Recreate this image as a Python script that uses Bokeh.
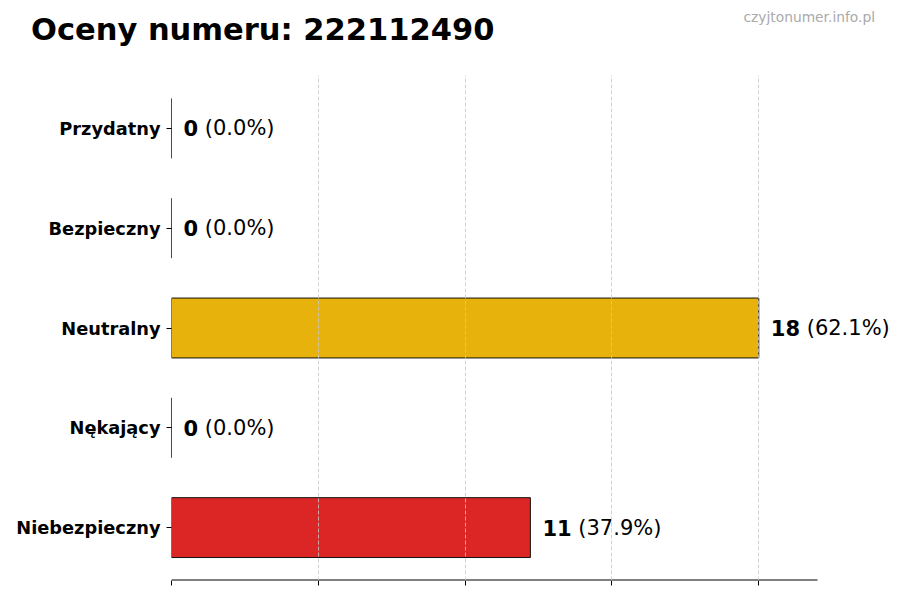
from bokeh.plotting import figure
from bokeh.models import ColumnDataSource, Range1d, FixedTicker, Div
from bokeh.layouts import column
from bokeh.core.properties import value
from bokeh.embed import file_html
from bokeh.resources import INLINE

categories = ["Niebezpieczny", "Nękający", "Neutralny", "Bezpieczny", "Przydatny"]
counts = [11, 0, 18, 0, 0]
colors = ["#DC2626", "#9CA3AF", "#E8B20C", "#16A34A", "#2563EB"]
title_text = "Oceny numeru: 222112490"
watermark = "czyjtonumer.info.pl"
grid_ticks = [0, 4.5, 9, 13.5, 18]

FONT = "DejaVu Sans"
VAL_PX = 21.0
total = sum(counts)
pos = list(range(len(categories)))
bold_txt = [str(c) for c in counts]
pct_txt = ["(%.1f%%)" % (100.0 * c / total) for c in counts]
bold_off = [12] * len(counts)
pct_off = [12 + len(s) * 0.696 * VAL_PX + 0.318 * VAL_PX for s in bold_txt]

src = ColumnDataSource(dict(y=pos, cnt=counts, col=colors,
                            btxt=bold_txt, ptxt=pct_txt, boff=bold_off, poff=pct_off))

# layout in pixels
LEFT, AXIS_W, EXTRA_W, FRAME_H = 171, 646, 75, 505
axis_max = max(counts) * 1.1
x_max = axis_max * (AXIS_W + EXTRA_W) / AXIS_W
y_pad = 0.23
y0, y1 = -0.3 - y_pad, len(categories) - 1 + 0.3 + y_pad

p = figure(x_range=Range1d(0, x_max), y_range=Range1d(y0, y1),
           frame_width=AXIS_W + EXTRA_W, frame_height=FRAME_H,
           min_border_left=LEFT, min_border_right=0, min_border_top=0, min_border_bottom=10,
           output_backend="svg", toolbar_location=None, outline_line_color=None,
           background_fill_color="white", border_fill_color="white")

p.hbar(y="y", right="cnt", left=0, height=0.6, source=src, fill_color="col",
       line_color="#111111", line_width=1)

p.text(x="cnt", y="y", text="btxt", source=src, x_offset="boff",
       text_font=value(FONT), text_font_style="bold", text_font_size="%.1fpx" % VAL_PX,
       text_baseline="middle", text_align="left", text_color="black")
p.text(x="cnt", y="y", text="ptxt", source=src, x_offset="poff",
       text_font=value(FONT), text_font_size="%.1fpx" % VAL_PX,
       text_baseline="middle", text_align="left", text_color="black")

# bottom spine only as wide as the value axis
p.segment(x0=[0], x1=[axis_max], y0=[y0], y1=[y0], line_color="black", line_width=2)

# axes
p.xaxis.ticker = FixedTicker(ticks=grid_ticks)
p.xaxis.major_label_overrides = {t: "" for t in grid_ticks}
p.xaxis.major_label_standoff = 0
p.xaxis.axis_line_color = None
p.xaxis.major_tick_line_color = "black"
p.xaxis.major_tick_out = 5
p.xaxis.major_tick_in = 0
p.xaxis.minor_tick_line_color = None

p.yaxis.ticker = FixedTicker(ticks=pos)
p.yaxis.major_label_overrides = {i: c for i, c in zip(pos, categories)}
p.yaxis.axis_line_color = None
p.yaxis.major_tick_line_color = "black"
p.yaxis.major_tick_out = 5
p.yaxis.major_tick_in = 0
p.yaxis.minor_tick_line_color = None
p.yaxis.major_label_text_font = FONT
p.yaxis.major_label_text_font_style = "bold"
p.yaxis.major_label_text_font_size = "17.8px"
p.yaxis.major_label_text_color = "black"
p.yaxis.major_label_standoff = 6

p.ygrid.grid_line_color = None
p.xgrid.ticker = FixedTicker(ticks=grid_ticks)
p.xgrid.grid_line_color = "#c8c8c8"
p.xgrid.grid_line_alpha = 0.8
p.xgrid.grid_line_dash = "4 2"
p.xgrid.grid_line_width = 1
p.xgrid.level = "annotation"

W = LEFT + AXIS_W + EXTRA_W
head = Div(width=W, height=75, styles={"margin": "0", "padding": "0"},
           text=(
    '<div style="position:relative;width:%dpx;height:75px;font-family:\'DejaVu Sans\';">'
    '<span style="position:absolute;left:31px;top:15px;font-size:30.5px;font-weight:bold;'
    'line-height:1;color:#000;white-space:nowrap;">%s</span>'
    '<span style="position:absolute;right:17px;top:10.5px;font-size:13.8px;'
    'line-height:1;color:#aaaaaa;white-space:nowrap;">%s</span>'
    '</div>') % (W, title_text, watermark))

layout = column(head, p, spacing=0)
open("out.html", "w").write(file_html(layout, INLINE))
